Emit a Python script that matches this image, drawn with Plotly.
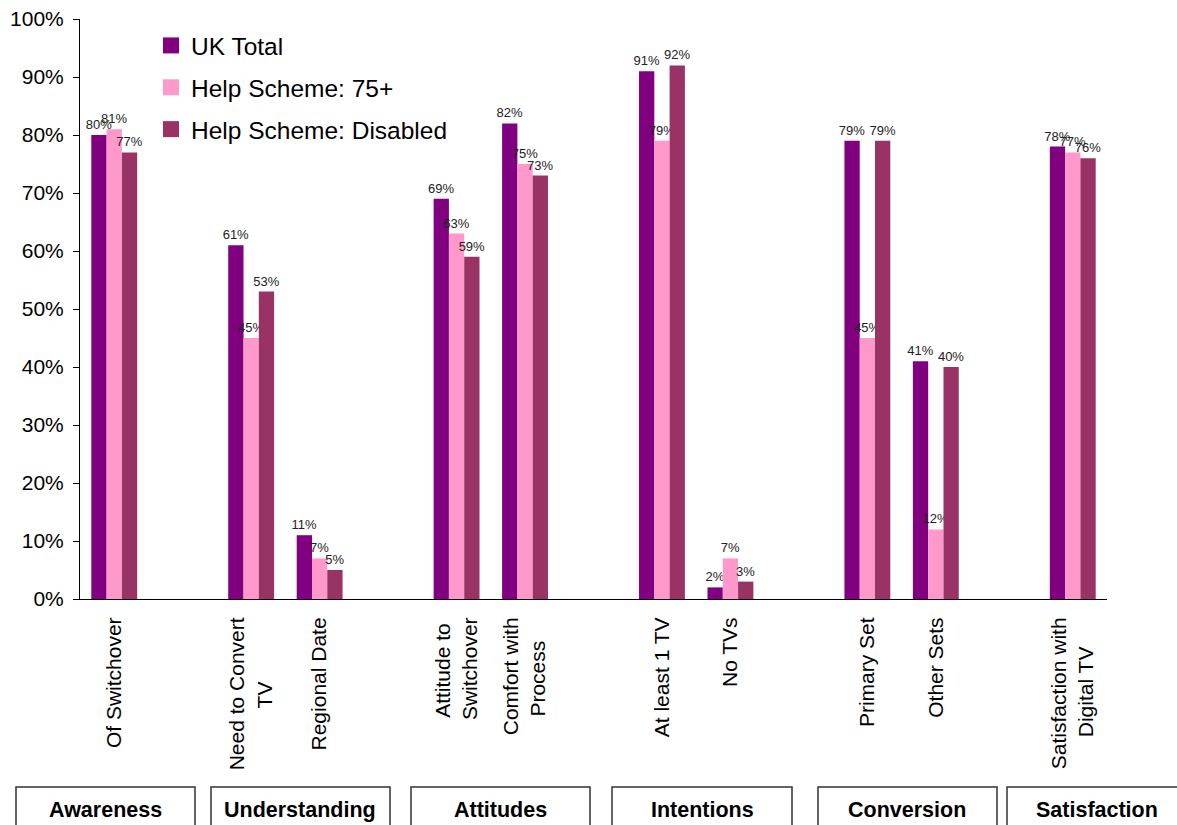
import plotly.graph_objects as go

PAD = "\u00a0"
ZW = "\u200b"
categories = ["Of Switchover", "Need to Convert<br>TV" + PAD * 11 + ZW, "Regional Date",
              "Attitude to" + PAD + ZW + "<br>Switchover", "Comfort with<br>Process" + PAD * 4 + ZW,
              "At least 1 TV", "No TVs", "Primary Set", "Other Sets",
              "Satisfaction with<br>Digital TV" + PAD * 5 + ZW]
slots = [0, 2, 3, 5, 6, 8, 9, 11, 12, 14]
uk_total = [80, 61, 11, 69, 82, 91, 2, 79, 41, 78]
help_75 = [81, 45, 7, 63, 75, 79, 7, 45, 12, 77]
help_disabled = [77, 53, 5, 59, 73, 92, 3, 79, 40, 76]
series_names = ["UK Total", "Help Scheme: 75+", "Help Scheme: Disabled"]
colors = ["#800080", "#FF99CC", "#993366"]
y_ticks = list(range(0, 101, 10))
y_ticktext = [f"{v}%" for v in y_ticks]
groups = ["Awareness", "Understanding", "Attitudes", "Intentions", "Conversion", "Satisfaction"]
group_px = [(16, 195), (211, 390), (411, 590), (612, 792), (818, 997), (1007, 1190)]
group_text_cx = [105, 300, 500, 702, 907, 1097]

W, H = 1177, 825
L, R, T, B = 80, 70, 19, 226
pw, ph = W - L - R, H - T - B

fig = go.Figure()
for i, (name, vals, c) in enumerate(zip(series_names, [uk_total, help_75, help_disabled], colors)):
    fig.add_trace(go.Bar(
        x=slots, y=vals, name=name, marker_color=c, marker_line_width=0,
        showlegend=False,
        text=[f"{v}%" for v in vals], textposition="outside",
        textfont=dict(size=13, color="#222222", family="Liberation Sans"),
        constraintext="none", cliponaxis=False,
    ))
# legend entries with larger square swatches
for i, (name, c) in enumerate(zip(series_names, colors)):
    fig.add_trace(go.Scatter(
        x=[None], y=[None], mode="markers", name=name, legendgroup=f"g{i}",
        marker=dict(symbol="square", size=16, color=c, line=dict(width=0)),
        showlegend=True, hoverinfo="skip",
    ))

shapes = []
annotations = []
for g, (x0, x1), cx in zip(groups, group_px, group_text_cx):
    shapes.append(dict(type="rect", xref="paper", yref="paper",
                       x0=(x0 - L) / pw, x1=(x1 - L) / pw,
                       y0=(H - B - 840) / ph, y1=(H - B - 787) / ph,
                       line=dict(color="#333333", width=1.5), fillcolor="rgba(0,0,0,0)"))
    annotations.append(dict(xref="paper", yref="paper",
                            x=(cx - L) / pw, y=(H - B - 810) / ph,
                            text=f"<b>{g}</b>", showarrow=False,
                            font=dict(size=21.5, color="black", family="Liberation Sans"),
                            xanchor="center", yanchor="middle"))

fig.update_layout(
    width=W, height=H,
    margin=dict(l=L, r=R, t=T, b=B, autoexpand=False),
    paper_bgcolor="white", plot_bgcolor="white",
    barmode="group", bargap=0.33, bargroupgap=0,
    font=dict(family="Liberation Sans", color="black"),
    showlegend=True,
    legend=dict(x=(151 - L) / pw, y=(H - B - 23) / ph, xanchor="left", yanchor="top",
                font=dict(size=24.5, color="black"), bgcolor="rgba(0,0,0,0)",
                tracegroupgap=7, itemsizing="trace"),
    shapes=shapes, annotations=annotations,
    xaxis=dict(range=[-0.5, 14.5], tickmode="array", tickvals=slots, ticktext=categories,
               tickangle=-90, tickfont=dict(size=21, color="black"), automargin=False,
               showgrid=False, zeroline=False, showline=True, linecolor="black", linewidth=1,
               ticks="outside", ticklen=9, tickcolor="rgba(0,0,0,0)"),
    yaxis=dict(range=[0, 100], tickmode="array", tickvals=y_ticks, ticktext=y_ticktext,
               tickfont=dict(size=21, color="black"), ticklabelstandoff=5, automargin=False,
               showgrid=False, zeroline=False, showline=True, linecolor="black", linewidth=1,
               ticks="outside", ticklen=6, tickcolor="black"),
)

fig.write_html("out.html")
